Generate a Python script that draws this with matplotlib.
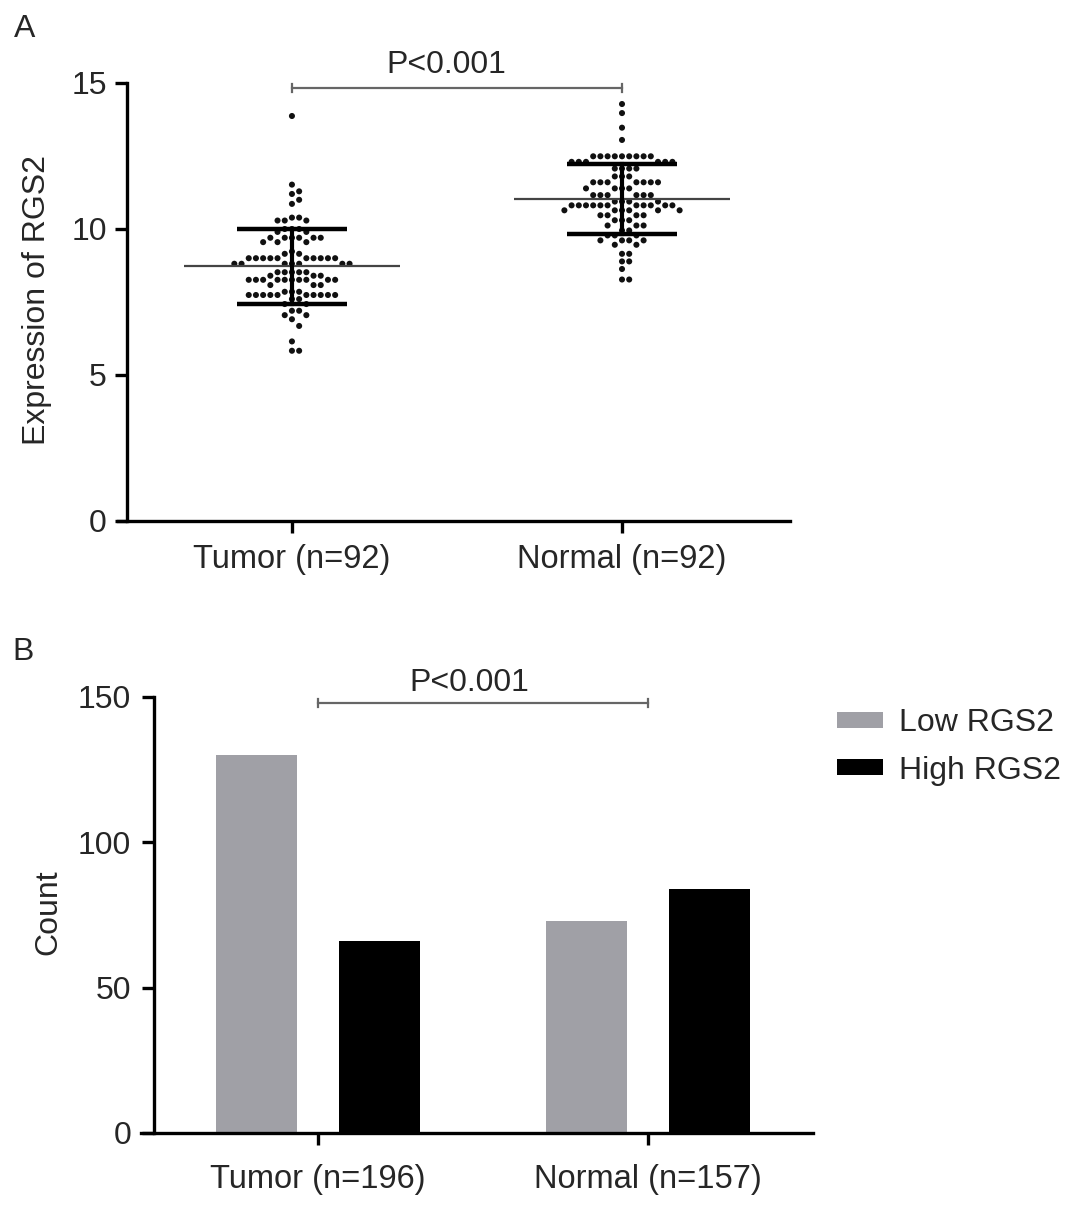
import numpy as np
import matplotlib
matplotlib.use("Agg")
import matplotlib.pyplot as plt
from matplotlib.patches import Patch

plt.rcParams['font.family'] = ['Liberation Sans', 'DejaVu Sans']

# ---------------- data ----------------
groups_a = ["Tumor (n=92)", "Normal (n=92)"]
tumor_expr = [
    13.87,
    11.52, 11.29, 11.20, 11.00, 10.86,
    10.39, 10.39,
    10.29, 10.29, 10.29,
    10.00, 10.00, 10.00,
    9.90, 9.90,
    9.70, 9.70, 9.70, 9.70, 9.70, 9.70,
    9.55, 9.55, 9.55,
    9.23,
    9.15, 9.15,
    9.00, 9.00, 9.00, 9.00, 9.00, 9.00, 9.00, 9.00, 9.00, 9.00,
    8.81, 8.81, 8.81, 8.81, 8.81, 8.81, 8.81,
    8.52, 8.52, 8.52, 8.52, 8.52,
    8.40, 8.40, 8.40,
    8.26, 8.26, 8.26, 8.26, 8.26, 8.26, 8.26, 8.26, 8.26, 8.26,
    8.08, 8.08, 8.08,
    7.85, 7.85, 7.85,
    7.74, 7.74, 7.74, 7.74, 7.74, 7.74, 7.74, 7.74, 7.74, 7.74,
    7.60, 7.60,
    7.43, 7.43,
    7.20, 7.20,
    7.05, 7.05,
    6.91, 6.68, 6.15, 5.83, 5.83,
]
normal_expr = [
    14.28, 13.97, 13.47, 13.05,
    12.49, 12.49, 12.49, 12.49, 12.49, 12.49, 12.49, 12.49, 12.49,
    12.30, 12.30, 12.30, 12.30, 12.30, 12.30,
    12.07, 12.07, 12.07, 12.07,
    11.80, 11.80, 11.80,
    11.60, 11.60, 11.60, 11.60, 11.60, 11.60, 11.60,
    11.39, 11.39, 11.39, 11.39,
    11.16, 11.16, 11.16, 11.16, 11.16, 11.16,
    10.94, 10.94, 10.94, 10.94,
    10.81, 10.81, 10.81, 10.81, 10.81, 10.81, 10.81, 10.81, 10.81, 10.81, 10.81,
    10.64, 10.64, 10.64, 10.64, 10.64, 10.64,
    10.47, 10.47, 10.47, 10.47,
    10.30, 10.30, 10.30,
    10.12, 10.12, 10.12,
    9.95, 9.95,
    9.78, 9.78, 9.78,
    9.61, 9.61, 9.61, 9.61,
    9.46, 9.46,
    9.15, 9.15,
    8.89, 8.89,
    8.63,
    8.27, 8.27,
]
yticks_a = [0, 5, 10, 15]
p_text = "P<0.001"

groups_b = ["Tumor (n=196)", "Normal (n=157)"]
low_counts = [130, 73]
high_counts = [66, 84]
series_b = ["Low RGS2", "High RGS2"]
yticks_b = [0, 50, 100, 150]

# ---------------- figure ----------------
W, H = 1078, 1208
fig = plt.figure(figsize=(W / 100, H / 100), dpi=100)
FS = 23
TXT = '#262626'

def fx(px):
    return px / W

def fy(py):
    return 1 - py / H

axA = fig.add_axes([fx(118), fy(521), fx(790) - fx(118), fy(83) - fy(521)])
axB = fig.add_axes([fx(141), fy(1133), fx(813) - fx(141), fy(697) - fy(1133)])

for ax in (axA, axB):
    for s in ('top', 'right'):
        ax.spines[s].set_visible(False)
    for s in ('left', 'bottom'):
        ax.spines[s].set_linewidth(2.4)
        ax.spines[s].set_color('black')
    ax.tick_params(axis='both', which='major', length=8.5, width=2.4,
                   colors='black', labelsize=FS, labelcolor=TXT)
    ax.tick_params(axis='x', pad=8, labelsize=FS + 0.5)
    ax.tick_params(axis='y', pad=6)

# ---- Panel A ----
axA.set_xlim(-0.527, 1.509)
axA.set_ylim(0, 15)
axA.spines['left'].set_position(('axes', 9 / 672))
axA.set_xticks([0, 1])
axA.set_xticklabels(groups_a)
axA.set_yticks(yticks_a)

x_px_per_unit = 330.0
y_px_per_unit = 438.0 / 15.0


def swarm_x(values, center, xppu, yppu, pitch_px=7.2, dia_px=6.8):
    vals = np.asarray(values, dtype=float)
    order = np.argsort(-vals, kind='stable')
    placed = []
    xs = np.zeros(len(vals))
    cands = [0]
    for k in range(1, 40):
        cands += [k, -k]
    for i in order:
        y = vals[i] * yppu
        chosen = 0
        for c in cands:
            x = c * pitch_px
            if all((x - px) ** 2 + (y - py) ** 2 >= dia_px ** 2 for px, py in placed):
                chosen = x
                break
        placed.append((chosen, y))
        xs[i] = center + chosen / xppu
    return xs


for gi, vals in enumerate([tumor_expr, normal_expr]):
    xs = swarm_x(vals, gi, x_px_per_unit, y_px_per_unit)
    axA.scatter(xs, vals, s=19, color='#111111', edgecolors='none', zorder=3)
    m = np.mean(vals)
    sd = np.std(vals, ddof=1)
    axA.plot([gi - 0.328, gi + 0.328], [m, m], color='#444444', lw=1.6, zorder=4,
             solid_capstyle='butt')
    axA.plot([gi, gi], [m - sd, m + sd], color='black', lw=3.0, zorder=5)
    for yy in (m - sd, m + sd):
        axA.plot([gi - 0.167, gi + 0.167], [yy, yy], color='black', lw=3.2, zorder=5,
                 solid_capstyle='butt')

yb = 14.83
axA.plot([0, 1], [yb, yb], color='#666666', lw=1.6, clip_on=False)
for xe in (0, 1):
    axA.plot([xe, xe], [yb - 0.15, yb + 0.15], color='#666666', lw=1.6, clip_on=False)
axA.text(0.467, 15.62, p_text, ha='center', va='center', fontsize=FS, color=TXT,
         clip_on=False)

fig.text(fx(37), fy(300), "Expression of RGS2", rotation=90, ha='center', va='center',
         fontsize=FS, color=TXT)
fig.text(fx(14), fy(37), "A", fontsize=FS, color=TXT, va='baseline', ha='left')

# ---- Panel B ----
axB.set_xlim(-0.536, 1.5)
axB.set_ylim(0, 150)
axB.spines['left'].set_position(('axes', 13 / 672))
axB.set_xticks([0, 1])
axB.set_xticklabels(groups_b)
axB.set_yticks(yticks_b)
axB.tick_params(axis='y', pad=8)
axB.tick_params(axis='x', pad=14)

xpos = np.arange(len(groups_b))
bw = 0.245
off = 0.186
axB.bar(xpos - off, low_counts, width=bw, color='#a0a0a6', edgecolor='none',
        label=series_b[0], zorder=2)
axB.bar(xpos + off, high_counts, width=bw, color='black', edgecolor='none',
        label=series_b[1], zorder=2)

yb2 = 147.9
axB.plot([0, 1], [yb2, yb2], color='#666666', lw=1.6, clip_on=False)
for xe in (0, 1):
    axB.plot([xe, xe], [yb2 - 1.5, yb2 + 1.5], color='#666666', lw=1.6, clip_on=False)
axB.text(0.46, 154.8, p_text, ha='center', va='center', fontsize=FS, color=TXT,
         clip_on=False)

fig.text(fx(48), fy(912), "Count", rotation=90, ha='center', va='center',
         fontsize=FS, color=TXT)
fig.text(fx(12), fy(660), "B", fontsize=FS, color=TXT, va='baseline', ha='left')

handles = [Patch(facecolor='#a0a0a6', edgecolor='none', label=series_b[0]),
           Patch(facecolor='black', edgecolor='none', label=series_b[1])]
fig.legend(handles=handles, loc='center left', bbox_to_anchor=(fx(837), fy(747)),
           frameon=False, fontsize=FS, handlelength=1.45, handleheight=0.4,
           handletextpad=0.5, labelspacing=0.55, borderpad=0, borderaxespad=0,
           labelcolor=TXT)

fig.savefig("out.png", dpi=100)
